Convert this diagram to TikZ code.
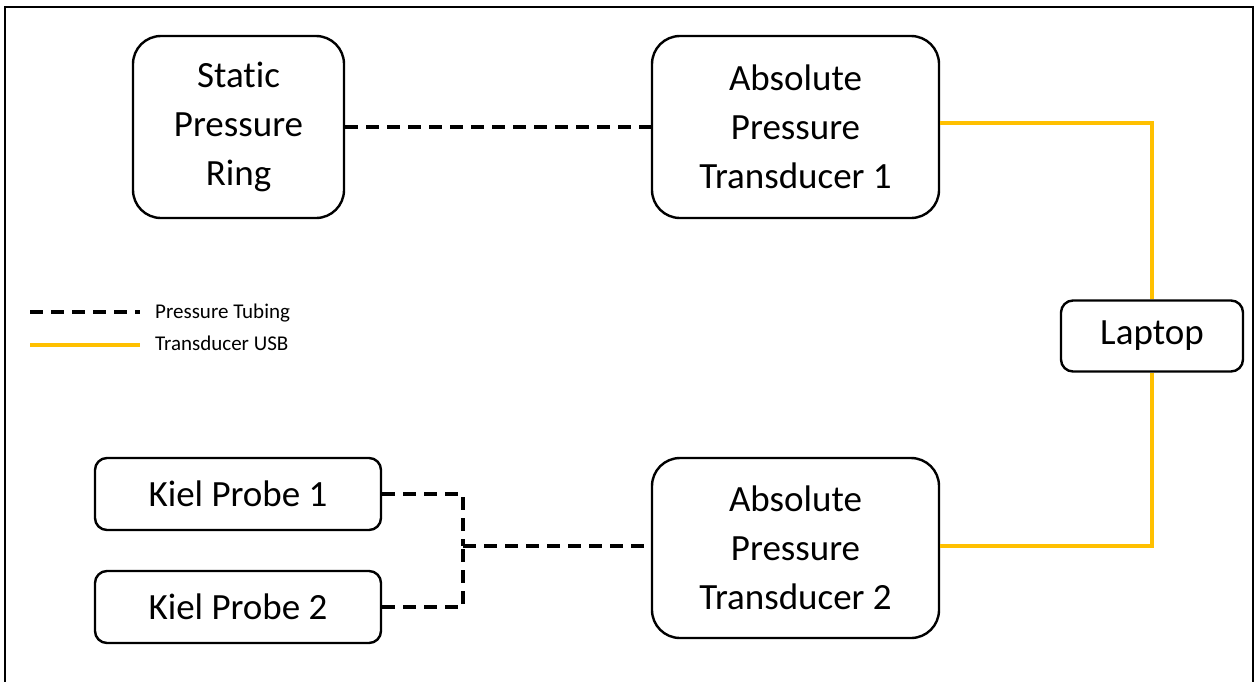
\documentclass[tikz,border=0pt]{standalone}
\usepackage{fontspec}
\setmainfont{Carlito}[RawFeature={-liga;-dlig;-calt}]
\definecolor{usbyellow}{HTML}{FFC000}
\begin{document}
\begin{tikzpicture}[x=1pt,y=-1pt,
  box/.style={draw=black,line width=2.4pt,rounded corners=#1,inner sep=0pt,align=center,
    font=\fontsize{37}{49}\selectfont},
  box/.default=28pt,
  tube/.style={draw=black,line width=4pt,dash pattern=on 13pt off 8pt},
  usb/.style={draw=usbyellow,line width=3.3pt},
  legtext/.style={anchor=west,inner sep=0pt,font=\fontsize{21}{24}\selectfont}]
\useasboundingbox (0,0) rectangle (1257,681);
\clip (0,0) rectangle (1257,681);
\fill[white] (0,0) rectangle (1257,681);
\draw[line width=2.5pt] (5,7) rectangle (1253,720);
% nodes
\node[box, minimum width=211pt, minimum height=182pt] (spr) at (238.5,127) {Stat\kern0pt ic\\Pressure\\Ring};
\node[box, minimum width=287pt, minimum height=182pt] (apt1) at (795.5,127) {Absolute\\Pressure\\Transducer 1};
\node[box, minimum width=287pt, minimum height=180pt] (apt2) at (795.5,548) {Absolute\\Pressure\\Transducer 2};
\node[box=12pt, minimum width=182pt, minimum height=71pt] (lap) at (1152,336) {\raisebox{-3pt}{Laptop}};
\node[box=12pt, minimum width=286pt, minimum height=72pt] (k1) at (238,494) {Kiel Probe 1};
\node[box=12pt, minimum width=286pt, minimum height=72pt] (k2) at (238,607) {Kiel Probe 2};
% connectors
\draw[tube] (spr.east) -- (apt1.west);
\coordinate (j) at (463,546);
\draw[tube] (k1.east) -| (j);
\draw[tube] (k2.east) -| (j);
\draw[tube] (j) -- (j -| apt2.west);
\draw[usb] ([yshift=4pt]apt1.east) -| (lap.north);
\draw[usb] ([yshift=2pt]apt2.east) -| (lap.south);
% legend
\coordinate (la) at (30,312);
\coordinate (lb) at (140,312);
\coordinate (lc) at (30,345);
\coordinate (ld) at (140,345);
\draw[tube,line width=4.5pt] (la) -- (lb);
\draw[usb] (lc) -- (ld);
\node[legtext] (t1) at (155,313) {Pressure Tubing};
\node[legtext] (t2) at (155,343) {Transducer USB};
\end{tikzpicture}
\end{document}
